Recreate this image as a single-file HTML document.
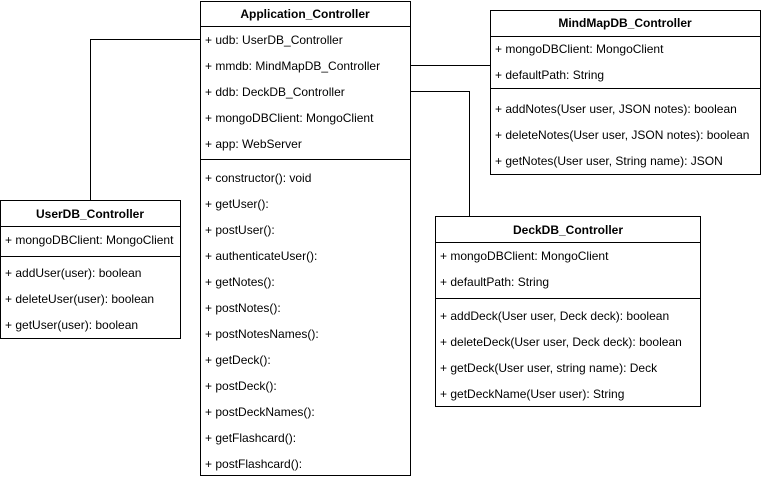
<!DOCTYPE html>
<html><head><meta charset="utf-8"><style>html,body{margin:0;padding:0;background:#fff}</style></head>
<body>
<svg width="761" height="480" xmlns="http://www.w3.org/2000/svg" font-family="Liberation Sans, Arial, sans-serif" font-size="12" fill="#000">
<g fill="none" stroke="#000" stroke-width="1">
<!-- connectors -->
<path d="M90.5 200 V39.5 H200"/>
<path d="M410 65.5 H490"/>
<path d="M410 91.5 H469.5 V216"/>
<!-- Application -->
<rect x="200.5" y="1.5" width="210" height="474"/>
<path d="M200.5 26.5 H410.5 M200.5 159.5 H410.5"/>
<!-- MindMap -->
<rect x="490.5" y="10.5" width="270" height="164"/>
<path d="M490.5 36.5 H760.5 M490.5 88.5 H760.5"/>
<!-- UserDB -->
<rect x="0.5" y="200.5" width="180" height="138"/>
<path d="M0.5 226.5 H180.5 M0.5 256.5 H180.5"/>
<!-- Deck -->
<rect x="435.5" y="216.5" width="265" height="190"/>
<path d="M435.5 242.5 H700.5 M435.5 298.5 H700.5"/>
</g>
<g font-weight="bold" text-anchor="middle">
<text x="305" y="18">Application_Controller</text>
<text x="625" y="27">MindMapDB_Controller</text>
<text x="90" y="218">UserDB_Controller</text>
<text x="568" y="234">DeckDB_Controller</text>
</g>
<g>
<text x="205" y="44">+ udb: UserDB_Controller</text>
<text x="205" y="70">+ mmdb: MindMapDB_Controller</text>
<text x="205" y="96">+ ddb: DeckDB_Controller</text>
<text x="205" y="122">+ mongoDBClient: MongoClient</text>
<text x="205" y="148">+ app: WebServer</text>
<text x="205" y="182">+ constructor(): void</text>
<text x="205" y="208">+ getUser():</text>
<text x="205" y="234">+ postUser():</text>
<text x="205" y="260">+ authenticateUser():</text>
<text x="205" y="286">+ getNotes():</text>
<text x="205" y="312">+ postNotes():</text>
<text x="205" y="338">+ postNotesNames():</text>
<text x="205" y="364">+ getDeck():</text>
<text x="205" y="390">+ postDeck():</text>
<text x="205" y="416">+ postDeckNames():</text>
<text x="205" y="442">+ getFlashcard():</text>
<text x="205" y="468">+ postFlashcard():</text>

<text x="495" y="53">+ mongoDBClient: MongoClient</text>
<text x="495" y="79">+ defaultPath: String</text>
<text x="495" y="113">+ addNotes(User user, JSON notes): boolean</text>
<text x="495" y="139">+ deleteNotes(User user, JSON notes): boolean</text>
<text x="495" y="165">+ getNotes(User user, String name): JSON</text>

<text x="5" y="244">+ mongoDBClient: MongoClient</text>
<text x="5" y="277">+ addUser(user): boolean</text>
<text x="5" y="303">+ deleteUser(user): boolean</text>
<text x="5" y="329">+ getUser(user): boolean</text>

<text x="440" y="260">+ mongoDBClient: MongoClient</text>
<text x="440" y="286">+ defaultPath: String</text>
<text x="440" y="320">+ addDeck(User user, Deck deck): boolean</text>
<text x="440" y="346">+ deleteDeck(User user, Deck deck): boolean</text>
<text x="440" y="372">+ getDeck(User user, string name): Deck</text>
<text x="440" y="398">+ getDeckName(User user): String</text>
</g>
</svg>
</body></html>
